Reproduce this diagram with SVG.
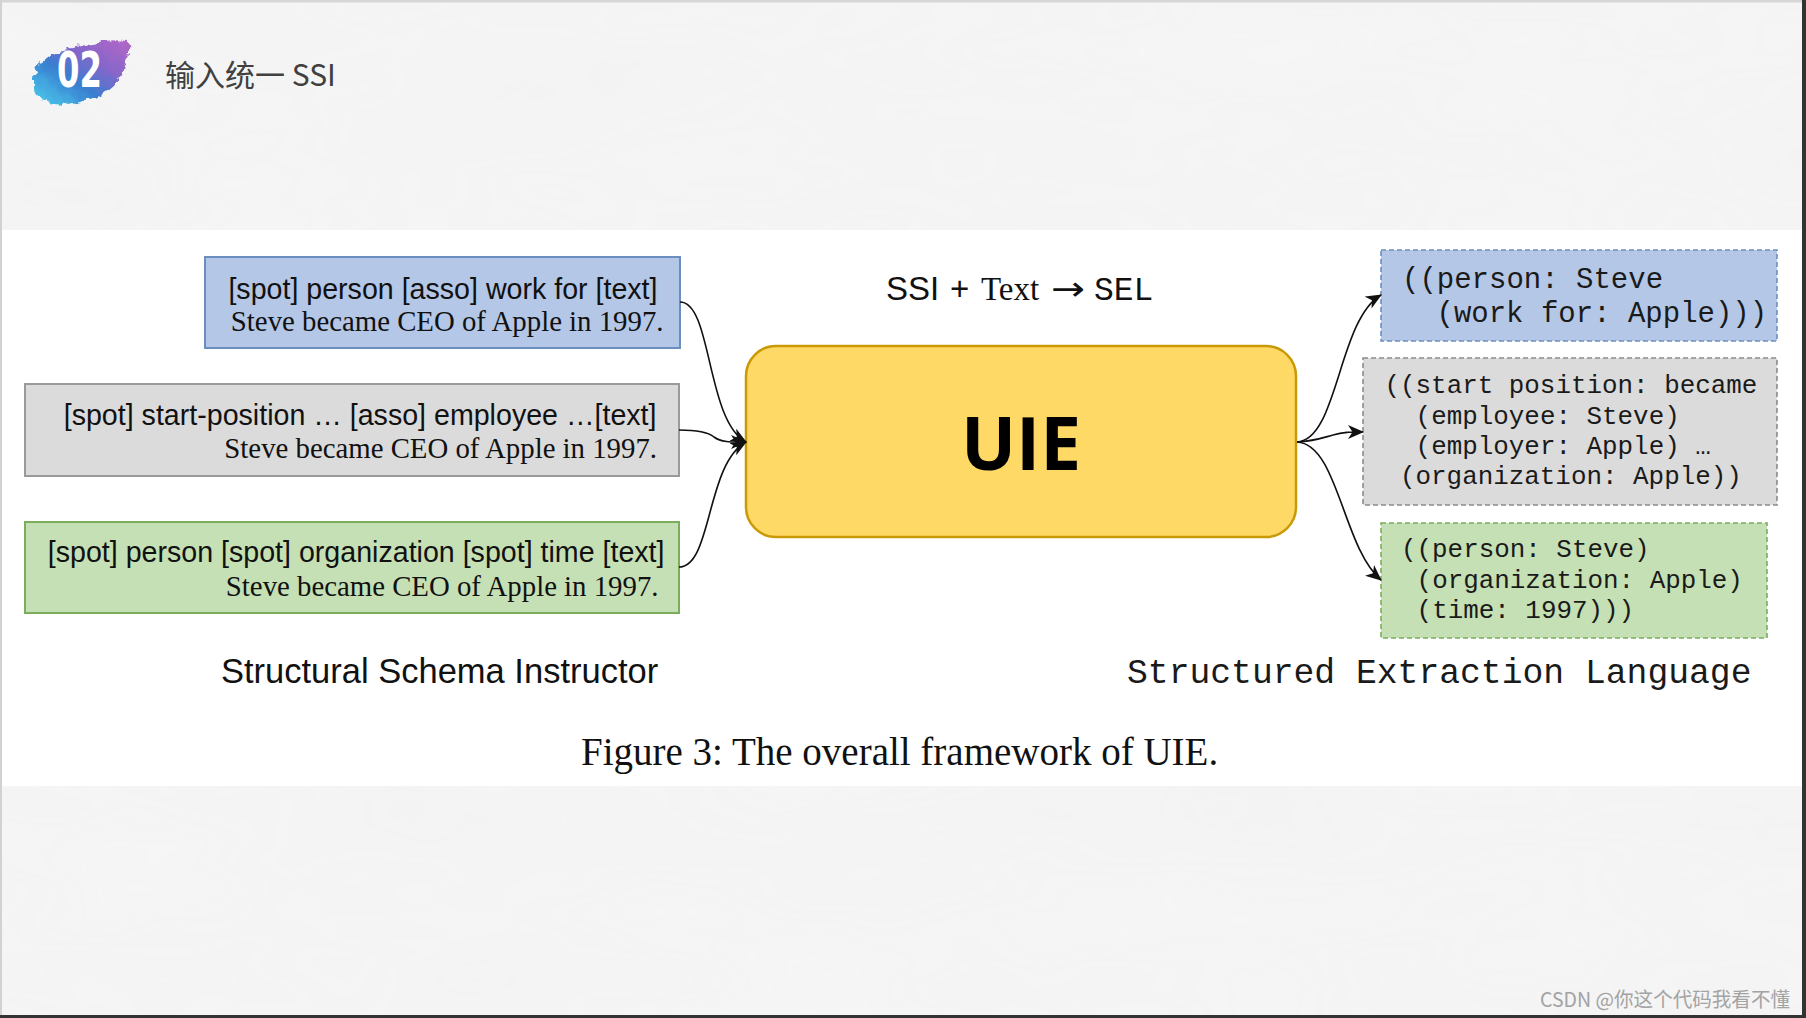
<svg xmlns="http://www.w3.org/2000/svg" width="1806" height="1018" viewBox="0 0 1806 1018">
  <defs>
    <style>
      .sans { font-family: "Liberation Sans", Arial, sans-serif; fill: #111; }
      .serif { font-family: "Liberation Serif", "Times New Roman", serif; fill: #111; }
      .mono { font-family: "Liberation Mono", "Courier New", monospace; fill: #1a1a1a; }
      .in1 { font-size: 28.6px; text-anchor: end; }
      .in2 { font-size: 28.8px; text-anchor: end; }
      .outB { font-size: 29px; }
      .outS { font-size: 25.9px; }
      .edge { fill: none; stroke: #111; stroke-width: 1.6; marker-end: url(#arrow); }
      .blue { fill: #b4c7e7; stroke: #6c8ebf; }
      .gray { fill: #dbdbdb; stroke: #9a9a9a; }
      .green { fill: #c5e0b4; stroke: #7aad5c; }
      .solid { stroke-width: 2; }
      .dash { stroke-width: 1.6; stroke-dasharray: 5 3; }
    </style>
    <marker id="arrow" viewBox="0 0 16 14" refX="15" refY="7" markerWidth="16" markerHeight="14" markerUnits="userSpaceOnUse" orient="auto">
      <path d="M0,0 L16,7 L0,14 L4.5,7 Z" fill="#111"/>
    </marker>
    <linearGradient id="splash" x1="1" y1="0" x2="0" y2="1">
      <stop offset="0" stop-color="#b260c4"/>
      <stop offset="0.35" stop-color="#7f5fc8"/>
      <stop offset="0.6" stop-color="#2f78cf"/>
      <stop offset="1" stop-color="#45d0ee"/>
    </linearGradient>
    <filter id="rough" x="-20%" y="-20%" width="140%" height="140%">
      <feTurbulence type="fractalNoise" baseFrequency="0.12" numOctaves="3" seed="4" result="n"/>
      <feDisplacementMap in="SourceGraphic" in2="n" scale="10" xChannelSelector="R" yChannelSelector="G"/>
      <feGaussianBlur stdDeviation="0.6"/>
    </filter>
    <filter id="paper" x="0" y="0" width="100%" height="100%">
      <feTurbulence type="fractalNoise" baseFrequency="0.003 0.008" numOctaves="3" seed="7" result="t"/>
      <feColorMatrix in="t" type="matrix" values="0 0 0 0 0.5  0 0 0 0 0.5  0 0 0 0 0.5  0 0 0 0.18 0"/>
    </filter>
  </defs>

  <!-- background -->
  <rect x="0" y="0" width="1806" height="1018" fill="#f6f6f6"/>
  <rect x="0" y="0" width="1806" height="1018" filter="url(#paper)" opacity="0.3"/>
  <rect x="0" y="230" width="1806" height="556" fill="#ffffff"/>
  <rect x="0" y="0" width="1806" height="2.5" fill="#d6d6d6"/>
  <rect x="0" y="0" width="2" height="1018" fill="#d2d2d2"/>
  <rect x="1802" y="0" width="4" height="1018" fill="#333333"/>
  <rect x="0" y="1015" width="1806" height="3" fill="#333333"/>

  <!-- header -->
  <g id="header">
    <path d="M34,78 C36,62 50,52 68,49 C85,45 105,38 128,41 C132,52 126,66 120,76 C112,90 96,99 74,104 C56,107 40,102 34,90 Z" fill="url(#splash)" filter="url(#rough)" opacity="0.95"/>
    <text x="57" y="87" font-family="DejaVu Sans, sans-serif" font-weight="700" font-size="50" fill="#ffffff" textLength="45" lengthAdjust="spacingAndGlyphs">02</text>
    <text x="165" y="86" font-family="Noto Sans CJK SC, Noto Sans, sans-serif" font-size="30" fill="#404040">输入统一 SSI</text>
  </g>

  <!-- input nodes -->
  <g id="in-blue">
    <rect class="blue solid" x="205" y="257" width="475" height="91"/>
    <text class="sans in1" x="657.5" y="299">[spot] person [asso] work for [text]</text>
    <text class="serif in2" x="663.5" y="331">Steve became CEO of Apple in 1997.</text>
  </g>
  <g id="in-gray">
    <rect class="gray solid" x="25" y="384" width="654" height="92"/>
    <text class="sans in1" x="656.5" y="425">[spot] start-position … [asso] employee …[text]</text>
    <text class="serif in2" x="657" y="458">Steve became CEO of Apple in 1997.</text>
  </g>
  <g id="in-green">
    <rect class="green solid" x="25" y="522" width="654" height="91"/>
    <text class="sans in1" x="664.5" y="562">[spot] person [spot] organization [spot] time [text]</text>
    <text class="serif in2" x="658.5" y="596">Steve became CEO of Apple in 1997.</text>
  </g>

  <!-- central node -->
  <g id="uie">
    <rect x="746" y="346" width="550" height="191" rx="30" ry="30" fill="#ffd966" stroke="#c99a06" stroke-width="2.5"/>
    <text x="1021" y="470" text-anchor="middle" font-family="Open Sans, Lato, sans-serif" font-weight="700" font-size="73" fill="#000">UIE</text>
  </g>

  <!-- formula label -->
  <g id="formula">
    <text y="300" font-size="33" fill="#111">
      <tspan x="886" font-family="Liberation Sans, Arial, sans-serif">SSI</tspan>
      <tspan x="950" font-family="Liberation Sans, Arial, sans-serif">+</tspan>
      <tspan x="981" font-family="Liberation Serif, Times New Roman, serif">Text</tspan>
    </text>
    <text x="1051" y="300" font-size="33" fill="#111" font-family="DejaVu Sans, sans-serif" textLength="34" lengthAdjust="spacingAndGlyphs">→</text>
    <text x="1094" y="300" font-size="33" fill="#111" font-family="Liberation Mono, Courier New, monospace">SEL</text>
  </g>

  <!-- output nodes -->
  <g id="out-blue">
    <rect class="blue dash" x="1381" y="250" width="396" height="91"/>
    <text class="mono outB" x="1402" y="288">((person: Steve</text>
    <text class="mono outB" x="1436.5" y="322">(work for: Apple)))</text>
  </g>
  <g id="out-gray">
    <rect class="gray dash" x="1363" y="358" width="414" height="147" style="stroke:#8c8c8c"/>
    <text class="mono outS" x="1384.5" y="393">((start position: became</text>
    <text class="mono outS" x="1415.6" y="424">(employee: Steve)</text>
    <text class="mono outS" x="1415.6" y="454">(employer: Apple) …</text>
    <text class="mono outS" x="1400" y="484">(organization: Apple))</text>
  </g>
  <g id="out-green">
    <rect class="green dash" x="1381" y="523" width="386" height="115"/>
    <text class="mono outS" x="1401" y="557">((person: Steve)</text>
    <text class="mono outS" x="1416.6" y="588">(organization: Apple)</text>
    <text class="mono outS" x="1416.6" y="618">(time: 1997)))</text>
  </g>

  <!-- connectors -->
  <g id="connectors">
    <path class="edge" d="M680,302 C712,302 706,420 746,442"/>
    <path class="edge" d="M679,430 C698,430 708,432 714,437 C722,443 734,442 746,442"/>
    <path class="edge" d="M679,567 C712,567 706,464 746,442"/>
    <path class="edge" d="M1297,442 C1338,440 1338,320 1381,295"/>
    <path class="edge" d="M1297,442 C1315,441 1322,438 1333,435 C1343,432 1350,432 1363,432"/>
    <path class="edge" d="M1297,442 C1338,444 1343,548 1381,580"/>
  </g>

  <!-- captions -->
  <g id="captions">
    <text class="sans" x="221" y="683" font-size="34.5">Structural Schema Instructor</text>
    <text class="mono" x="1127" y="683" font-size="34.7">Structured Extraction Language</text>
    <text class="serif" x="581" y="765" font-size="39">Figure 3: The overall framework of UIE.</text>
  </g>

  <text x="1790" y="1007" text-anchor="end" font-family="Noto Sans CJK SC, Noto Sans, sans-serif" font-size="20" fill="#a3a3a3" textLength="250" lengthAdjust="spacingAndGlyphs">CSDN @你这个代码我看不懂</text>
</svg>
